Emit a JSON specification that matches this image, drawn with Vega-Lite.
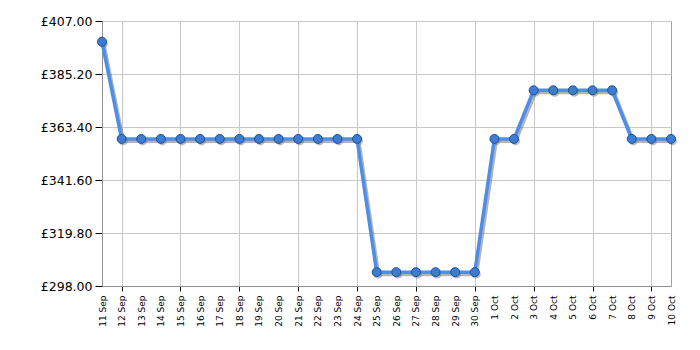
{
  "$schema": "https://vega.github.io/schema/vega-lite/v6.json",
  "autosize": "none",
  "width": 569,
  "height": 265,
  "padding": {"left": 102, "top": 21, "right": 29, "bottom": 64},
  "background": "white",
  "config": {
    "view": {"stroke": "#a0a0a0", "strokeWidth": 1},
    "axis": {"labelFont": "DejaVu Sans", "labelColor": "#000", "domainColor": "#909090", "tickColor": "#000", "gridColor": "#c8c8c8"}
  },
  "data": {"values": [
    {"d": "11 Sep", "p": 398.5}, {"d": "12 Sep", "p": 358.5}, {"d": "13 Sep", "p": 358.5},
    {"d": "14 Sep", "p": 358.5}, {"d": "15 Sep", "p": 358.5}, {"d": "16 Sep", "p": 358.5},
    {"d": "17 Sep", "p": 358.5}, {"d": "18 Sep", "p": 358.5}, {"d": "19 Sep", "p": 358.5},
    {"d": "20 Sep", "p": 358.5}, {"d": "21 Sep", "p": 358.5}, {"d": "22 Sep", "p": 358.5},
    {"d": "23 Sep", "p": 358.5}, {"d": "24 Sep", "p": 358.5}, {"d": "25 Sep", "p": 303.7},
    {"d": "26 Sep", "p": 303.7}, {"d": "27 Sep", "p": 303.7}, {"d": "28 Sep", "p": 303.7},
    {"d": "29 Sep", "p": 303.7}, {"d": "30 Sep", "p": 303.7}, {"d": "1 Oct", "p": 358.5},
    {"d": "2 Oct", "p": 358.5}, {"d": "3 Oct", "p": 378.5}, {"d": "4 Oct", "p": 378.5},
    {"d": "5 Oct", "p": 378.5}, {"d": "6 Oct", "p": 378.5}, {"d": "7 Oct", "p": 378.5},
    {"d": "8 Oct", "p": 358.5}, {"d": "9 Oct", "p": 358.5}, {"d": "10 Oct", "p": 358.5}
  ]},
  "encoding": {
    "x": {
      "field": "d", "type": "ordinal", "sort": null,
      "scale": {"type": "point", "padding": 0},
      "axis": {
        "title": null, "labelAngle": -90, "labelFontSize": 9, "labelPadding": 4, "tickSize": 5,
        "grid": true,
        "gridOpacity": {"condition": {"test": "indexof(['12 Sep','15 Sep','18 Sep','21 Sep','24 Sep','27 Sep','30 Sep','3 Oct','6 Oct','9 Oct'], datum.value) >= 0", "value": 1}, "value": 0},
        "tickOpacity": {"condition": {"test": "indexof(['12 Sep','15 Sep','18 Sep','21 Sep','24 Sep','27 Sep','30 Sep','3 Oct','6 Oct','9 Oct'], datum.value) >= 0", "value": 1}, "value": 0}
      }
    },
    "y": {
      "field": "p", "type": "quantitative",
      "scale": {"domain": [298, 407], "nice": false, "zero": false},
      "axis": {
        "title": null, "values": [298, 319.8, 341.6, 363.4, 385.2, 407],
        "labelExpr": "'£' + format(datum.value, '.2f')",
        "labelFontSize": 12.5, "labelPadding": 3, "tickSize": 7, "grid": true
      }
    }
  },
  "layer": [
    {"mark": {"type": "line", "color": "#777", "opacity": 0.55, "strokeWidth": 4, "xOffset": 1.5, "yOffset": 2}},
    {"mark": {"type": "point", "shape": "circle", "size": 80, "filled": true, "color": "#777", "opacity": 0.5, "xOffset": 1.5, "yOffset": 2}},
    {"mark": {"type": "line", "color": "#4f8ee6", "strokeWidth": 3.5}},
    {"mark": {"type": "point", "shape": "circle", "size": 80, "filled": true, "fill": "#3d7bd4", "stroke": "#1e4f94", "strokeWidth": 1, "opacity": 1}}
  ]
}
